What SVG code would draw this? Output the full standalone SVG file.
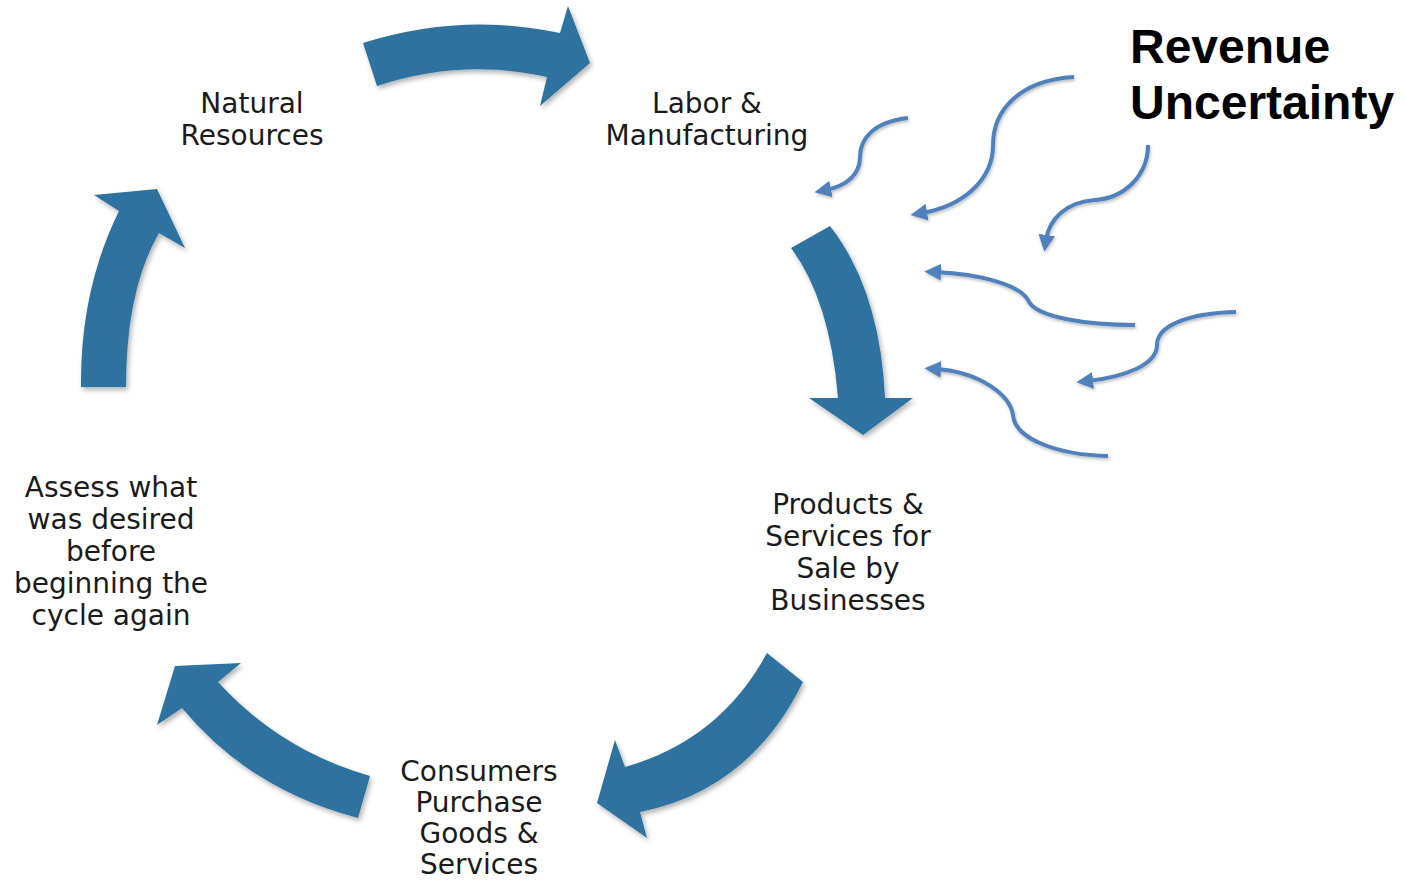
<svg xmlns="http://www.w3.org/2000/svg" width="1406" height="882" viewBox="0 0 1406 882">
<style>
.big{fill:#2E73A0;filter:url(#sh)}
.thin{fill:none;stroke:#4F81BD;stroke-width:4;stroke-linecap:butt;marker-end:url(#ah);filter:url(#sh2)}
.lbl{font-family:"DejaVu Sans",sans-serif;font-size:28px;fill:#1a1a1a;text-anchor:middle}
.ttl{font-family:"Liberation Sans",Arial,sans-serif;font-weight:bold;font-size:48px;fill:#000}
</style>
<defs>
<filter id="sh" x="-20%" y="-20%" width="140%" height="140%"><feDropShadow dx="2" dy="3" stdDeviation="2.5" flood-color="#000" flood-opacity="0.3"/></filter>
<filter id="sh2" x="-20%" y="-20%" width="140%" height="140%"><feDropShadow dx="1" dy="2" stdDeviation="1.5" flood-color="#000" flood-opacity="0.25"/></filter>
<marker id="ah" viewBox="0 0 10 10" refX="3" refY="5" markerWidth="4.2" markerHeight="4.2" orient="auto"><path d="M0,0 L10,5 L0,10 Z" fill="#4F81BD"/></marker>
</defs>
<g id="cycle-arrows">
<path class="big" d="M363,43 Q462,12 560,33 L568,6 L590,63 L540,106 L547,77 Q462,58 377,86 Z"/>
<path class="big" d="M791,248 L830,226 Q880,290 885,398 L913,398 L863,435 L809,398 L838,398 Q830,300 791,248 Z"/>
<path class="big" d="M767,653 L803,682 Q750,790 640,812 L647,838 L597,803 L615,740 L625,767 Q720,740 767,653 Z"/>
<path class="big" d="M370,776 L358,818 Q250,790 182,708 L157,725 L175,666 L241,663 L218,682 Q280,750 370,776 Z"/>
<path class="big" d="M81,387 L126,387 Q126,290 159,233 L185,248 L157,189 L94,195 L119,211 Q80,290 81,387 Z"/>
</g>
<g id="uncertainty-arrows">
<path class="thin" d="M908,118 C872,122 860,140 860,157 C860,175 846,186 826,190"/>
<path class="thin" d="M1074,77 C1020,80 993,110 993,145 C993,180 963,206 922,213"/>
<path class="thin" d="M1148,145 C1148,175 1125,198 1095,200 C1065,202 1049,220 1046,240"/>
<path class="thin" d="M1135,325 C1090,325 1035,318 1028,300 C1020,285 980,274 936,272"/>
<path class="thin" d="M1236,312 C1190,313 1157,325 1157,345 C1157,365 1124,377 1088,381"/>
<path class="thin" d="M1108,456 C1060,455 1015,440 1013,415 C1010,395 980,372 936,369"/>
</g>
<g id="node-natural">
<text class="lbl" x="252" y="113">Natural</text>
<text class="lbl" x="252" y="145">Resources</text>
</g>
<g id="node-labor">
<text class="lbl" x="707" y="113">Labor &amp;</text>
<text class="lbl" x="707" y="145">Manufacturing</text>
</g>
<g id="node-products">
<text class="lbl" x="848" y="514">Products &amp;</text>
<text class="lbl" x="848" y="546">Services for</text>
<text class="lbl" x="848" y="578">Sale by</text>
<text class="lbl" x="848" y="610">Businesses</text>
</g>
<g id="node-consumers">
<text class="lbl" x="479" y="781">Consumers</text>
<text class="lbl" x="479" y="812">Purchase</text>
<text class="lbl" x="479" y="843">Goods &amp;</text>
<text class="lbl" x="479" y="874">Services</text>
</g>
<g id="node-assess">
<text class="lbl" x="111" y="497">Assess what</text>
<text class="lbl" x="111" y="529">was desired</text>
<text class="lbl" x="111" y="561">before</text>
<text class="lbl" x="111" y="593">beginning the</text>
<text class="lbl" x="111" y="625">cycle again</text>
</g>
<g id="title">
<text class="ttl" x="1130" y="63">Revenue</text>
<text class="ttl" x="1130" y="119">Uncertainty</text>
</g>
</svg>
